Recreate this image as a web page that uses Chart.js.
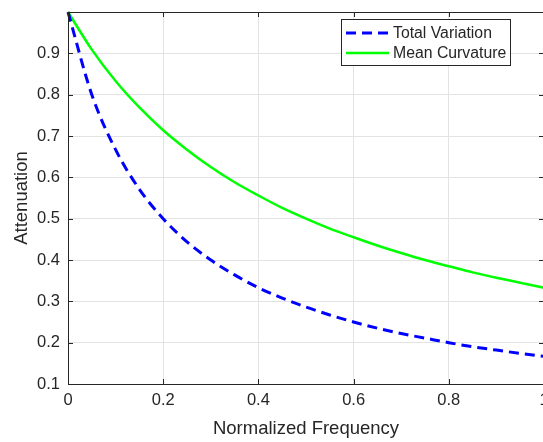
<!DOCTYPE html>
<html>
<head>
<meta charset="utf-8">
<script src="https://cdn.jsdelivr.net/npm/chart.js@4/dist/chart.umd.min.js"></script>
<style>
  html, body { margin: 0; padding: 0; background: #fff; overflow: hidden; }
  #wrap { width: 560px; height: 442px; }
</style>
</head>
<body>
<div id="wrap"><canvas id="c" width="560" height="442"></canvas></div>
<script>
// Normalized frequency samples
const freq = [0, 0.05, 0.1, 0.15, 0.2, 0.25, 0.3, 0.35, 0.4, 0.45, 0.5, 0.55, 0.6, 0.65, 0.7, 0.75, 0.8, 0.85, 0.9, 0.95, 1];
// Attenuation
const totalVariation = [1.0, 0.80, 0.667, 0.571, 0.50, 0.444, 0.40, 0.364, 0.333, 0.308, 0.286, 0.267, 0.25, 0.235, 0.222, 0.211, 0.20, 0.190, 0.182, 0.174, 0.167];
const meanCurvature  = [1.0, 0.909, 0.833, 0.769, 0.714, 0.667, 0.625, 0.588, 0.556, 0.526, 0.50, 0.476, 0.455, 0.435, 0.417, 0.40, 0.385, 0.370, 0.357, 0.345, 0.333];
const seriesNames = ['Total Variation', 'Mean Curvature'];
const xTicks = [0, 0.2, 0.4, 0.6, 0.8, 1];
const yTicks = [0.1, 0.2, 0.3, 0.4, 0.5, 0.6, 0.7, 0.8, 0.9, 1];
const xTickLabels = ['0', '0.2', '0.4', '0.6', '0.8', '1'];
const yTickLabels = ['0.1', '0.2', '0.3', '0.4', '0.5', '0.6', '0.7', '0.8', '0.9', ''];

const FONT = '"Liberation Sans", Arial, Helvetica, sans-serif';
const AX = '#262626';

const frame = {
  id: 'frame',
  afterDraw(chart) {
    const ctx = chart.ctx, a = chart.chartArea;
    const xs = chart.scales.x, ys = chart.scales.y;
    ctx.save();
    ctx.strokeStyle = AX;
    ctx.lineWidth = 1;
    ctx.strokeRect(Math.round(a.left) + 0.5, Math.round(a.top) + 0.5, a.right - a.left, a.bottom - a.top);
    const L = 5;
    ctx.beginPath();
    xTicks.forEach(v => {
      const px = Math.round(xs.getPixelForValue(v)) + 0.5;
      ctx.moveTo(px, a.bottom); ctx.lineTo(px, a.bottom - L);
      ctx.moveTo(px, a.top); ctx.lineTo(px, a.top + L);
    });
    yTicks.forEach(v => {
      const py = Math.round(ys.getPixelForValue(v)) + 0.5;
      ctx.moveTo(a.left, py); ctx.lineTo(a.left + L, py);
      ctx.moveTo(a.right, py); ctx.lineTo(a.right - L, py);
    });
    ctx.stroke();

    // legend
    const bx = 341.5, by = 19.5, bw = 169, bh = 46;
    ctx.fillStyle = '#fff';
    ctx.fillRect(bx, by, bw, bh);
    ctx.strokeStyle = AX;
    ctx.lineWidth = 1;
    ctx.strokeRect(bx, by, bw, bh);
    const rows = [33, 53];
    chart.data.datasets.forEach((ds, i) => {
      ctx.save();
      ctx.strokeStyle = ds.borderColor;
      ctx.lineWidth = ds.borderWidth;
      ctx.setLineDash(ds.borderDash || []);
      ctx.beginPath();
      ctx.moveTo(346, rows[i]); ctx.lineTo(389, rows[i]);
      ctx.stroke();
      ctx.restore();
      ctx.fillStyle = AX;
      ctx.font = '15.8px ' + FONT;
      ctx.textBaseline = 'middle';
      ctx.textAlign = 'left';
      ctx.fillText(ds.label, 393, rows[i] + 1);
    });
    ctx.restore();
  }
};

new Chart(document.getElementById('c'), {
  type: 'line',
  data: {
    datasets: [
      {
        label: seriesNames[0],
        data: freq.map((f, i) => ({x: f, y: totalVariation[i]})),
        borderColor: '#0000ff',
        borderWidth: 3,
        borderDash: [10, 6],
        pointRadius: 0,
        tension: 0.4,
        cubicInterpolationMode: 'monotone',
        fill: false,
        clip: 3
      },
      {
        label: seriesNames[1],
        data: freq.map((f, i) => ({x: f, y: meanCurvature[i]})),
        borderColor: '#00ff00',
        borderWidth: 2.5,
        pointRadius: 0,
        tension: 0.4,
        cubicInterpolationMode: 'monotone',
        fill: false,
        clip: 3
      }
    ]
  },
  options: {
    responsive: false,
    animation: false,
    layout: { padding: { top: 12, right: 16, left: 0, bottom: 0 } },
    plugins: { legend: { display: false }, tooltip: { enabled: false } },
    scales: {
      x: {
        type: 'linear', min: 0, max: 1,
        afterBuildTicks: s => { s.ticks = xTicks.map(v => ({value: v})); },
        afterFit: s => { s.height = 58; s.paddingLeft = 0; s.paddingRight = 0; },
        ticks: {
          color: AX, font: { family: FONT, size: 16.5 }, padding: 7, maxRotation: 0,
          callback: (v, i) => xTickLabels[i]
        },
        grid: { color: '#e3e3e3', drawTicks: false, lineWidth: 1 },
        border: { display: true, color: AX, width: 1 },
        title: { display: true, text: 'Normalized Frequency', color: AX,
                 font: { family: FONT, size: 18.5 }, padding: { top: 0, bottom: 2 } }
      },
      y: {
        type: 'linear', min: 0.1, max: 1,
        afterBuildTicks: s => { s.ticks = yTicks.map(v => ({value: v})); },
        afterFit: s => { s.width = 68; s.paddingTop = 0; s.paddingBottom = 0; },
        ticks: {
          color: AX, font: { family: FONT, size: 16.5 }, padding: 8,
          callback: (v, i) => yTickLabels[i]
        },
        grid: { color: '#e3e3e3', drawTicks: false, lineWidth: 1 },
        border: { display: true, color: AX, width: 1 },
        title: { display: true, text: 'Attenuation', color: AX,
                 font: { family: FONT, size: 18.5 }, padding: { top: 11, bottom: 0 } }
      }
    }
  },
  plugins: [frame]
});
</script>
</body>
</html>
